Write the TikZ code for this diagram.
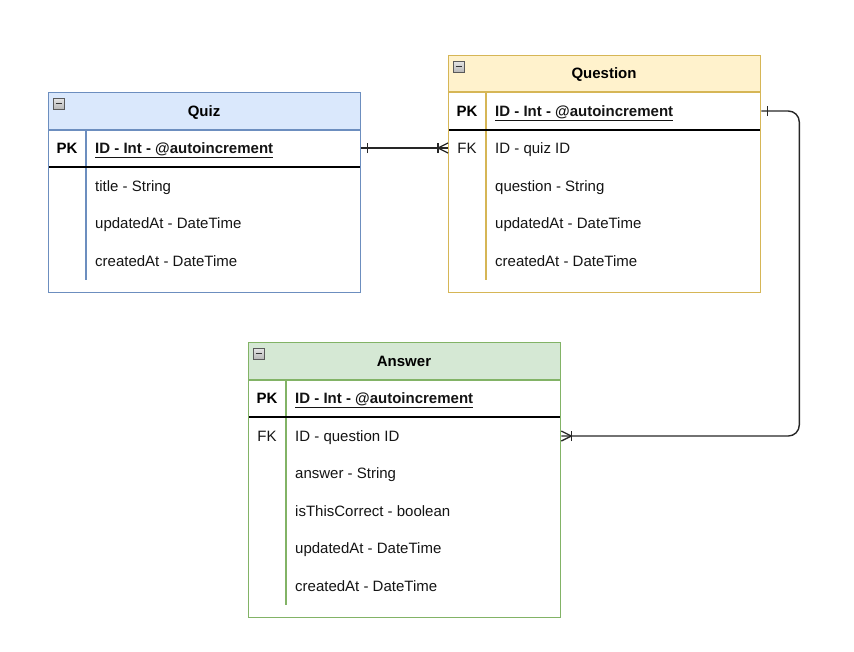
\documentclass[tikz,border=0pt]{standalone}
\usepackage{fontspec}
\setmainfont{Liberation Sans}
\definecolor{quizfill}{HTML}{DAE8FC}
\definecolor{quizline}{HTML}{6C8EBF}
\definecolor{qfill}{HTML}{FFF2CC}
\definecolor{qline}{HTML}{D6B656}
\definecolor{afill}{HTML}{D5E8D4}
\definecolor{aline}{HTML}{82B366}
\definecolor{txtc}{HTML}{141414}
\begin{document}
\begin{tikzpicture}[x=1pt,y=-1pt,
  font=\fontsize{15}{18}\selectfont,
  box/.style={draw=#1, line width=1.3pt, minimum width=312pt, anchor=north west, inner sep=0pt},
  sep/.style={draw=#1, line width=1.2pt},
  pkline/.style={draw=black, line width=1.5pt},
  txtbase/.style={inner sep=0pt, text height=11pt, text depth=0.3pt},
  fld/.style={txtbase, anchor=west, text=txtc},
  keyl/.style={txtbase, anchor=center, text=txtc},
  ttl/.style={txtbase, anchor=center, font=\fontsize{15}{18}\selectfont\bfseries, text=black},
  icon/.style={draw=gray!70!black, top color=gray!20, bottom color=gray!55, line width=0.7pt},
  conn/.style={draw=black!85, line width=1.4pt},
  tick/.style={draw=black!85, line width=1.3pt}
]
\useasboundingbox (0,0) rectangle (854,651);

% ---------- Quiz ----------
\fill[quizfill] (48,92) rectangle (360,130);
\draw[sep=quizline] (48,130) -- (360,130);
\draw[sep=quizline] (86,130) -- (86,280);
\draw[pkline] (48,167) -- (360,167);
\node[box=quizline, minimum height=200pt] (quizbox) at (48,92) {};
\draw[icon] (53,98) rectangle (64,109);
\draw[line width=1.2pt, black!80] (55.5,103.5) -- (61.5,103.5);
\node[ttl] (quiztitle) at (204,111) {Quiz};
\node[ttl] (quizpk) at (67,148) {PK};
\node[fld, font=\fontsize{15}{18}\selectfont\bfseries] (quizid) at (95,148) {\underline{ID - Int - @autoincrement}};
\node[fld] (quizt) at (95,186) {title - String};
\node[fld] (quizu) at (95,223) {updatedAt - DateTime};
\node[fld] (quizc) at (95,261) {createdAt - DateTime};

% ---------- Question ----------
\fill[qfill] (448,55) rectangle (760,92);
\draw[sep=qline] (448,92) -- (760,92);
\draw[sep=qline] (486,92) -- (486,280);
\draw[pkline] (448,130) -- (760,130);
\node[box=qline, minimum height=237pt] (qbox) at (448,55) {};
\draw[icon] (453,61) rectangle (464,72);
\draw[line width=1.2pt, black!80] (455.5,66.5) -- (461.5,66.5);
\node[ttl] (qtitle) at (604,73.5) {Question};
\node[ttl] (qpkl) at (467,111) {PK};
\node[fld, font=\fontsize{15}{18}\selectfont\bfseries] (qpk) at (495,111) {\underline{ID - Int - @autoincrement}};
\node[keyl] (qfkl) at (467,148) {FK};
\node[fld] (qfk) at (495,148) {ID - quiz ID};
\node[fld] (qq) at (495,186) {question - String};
\node[fld] (qu) at (495,223) {updatedAt - DateTime};
\node[fld] (qc) at (495,261) {createdAt - DateTime};

% ---------- Answer ----------
\fill[afill] (248,342) rectangle (560,380);
\draw[sep=aline] (248,380) -- (560,380);
\draw[sep=aline] (286,380) -- (286,605);
\draw[pkline] (248,417) -- (560,417);
\node[box=aline, minimum height=275pt] (abox) at (248,342) {};
\draw[icon] (253,348) rectangle (264,359);
\draw[line width=1.2pt, black!80] (255.5,353.5) -- (261.5,353.5);
\node[ttl] (atitle) at (404,361) {Answer};
\node[ttl] (apkl) at (267,398) {PK};
\node[fld, font=\fontsize{15}{18}\selectfont\bfseries] (apk) at (295,398) {\underline{ID - Int - @autoincrement}};
\node[keyl] (afkl) at (267,436) {FK};
\node[fld] (afk) at (295,436) {ID - question ID};
\node[fld] (aa) at (295,473) {answer - String};
\node[fld] (ac) at (295,511) {isThisCorrect - boolean};
\node[fld] (au) at (295,548) {updatedAt - DateTime};
\node[fld] (acr) at (295,586) {createdAt - DateTime};

% ---------- Connectors ----------
\coordinate (c1s) at (quizbox.east |- quizid);
\coordinate (c1e) at (qbox.west |- qfk);
\draw[conn] (c1s) -- (c1e);
\draw[tick] ([xshift=6pt,yshift=-5pt]c1s) -- ([xshift=6pt,yshift=5pt]c1s);
\draw[tick] ([xshift=-10pt,yshift=-5pt]c1e) -- ([xshift=-10pt,yshift=5pt]c1e);
\draw[tick] ([xshift=-10pt]c1e) -- ([yshift=-5pt]c1e);
\draw[tick] ([xshift=-10pt]c1e) -- ([yshift=5pt]c1e);

\coordinate (c2s) at (qbox.east |- qpk);
\coordinate (c2e) at (abox.east |- afk);
\draw[conn, rounded corners=11pt] (c2s) -- ++(38,0) |- (c2e);
\draw[tick] ([xshift=6pt,yshift=-5pt]c2s) -- ([xshift=6pt,yshift=5pt]c2s);
\draw[tick] ([xshift=10pt,yshift=-5pt]c2e) -- ([xshift=10pt,yshift=5pt]c2e);
\draw[tick] ([xshift=10pt]c2e) -- ([yshift=-5pt]c2e);
\draw[tick] ([xshift=10pt]c2e) -- ([yshift=5pt]c2e);
\end{tikzpicture}
\end{document}
